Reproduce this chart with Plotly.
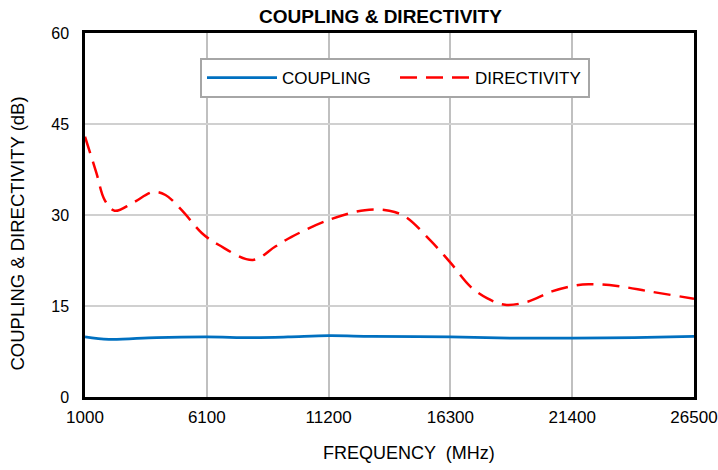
import plotly.graph_objects as go

# Data
freq_dir = [1000, 1480, 1820, 2240, 3000, 3860, 4370, 5050, 5900, 6590, 8030, 8970, 9650,
            11220, 12720, 13740, 14420, 15440, 16310, 17140, 17830, 18590, 19530, 20550,
            21420, 22080, 23280, 24640, 26500]
directivity = [42.9, 36.9, 32.5, 30.7, 32.0, 33.8, 33.3, 30.8, 27.0, 25.1, 22.6, 24.8, 26.4,
               29.2, 30.8, 30.7, 29.7, 25.9, 22.1, 18.2, 16.3, 15.2, 15.7, 17.4,
               18.3, 18.6, 18.3, 17.4, 16.2]

freq_cpl = [1000, 2000, 4000, 6100, 8000, 9500, 11200, 13000, 16300, 19000, 21400, 24000, 26500]
coupling = [9.9, 9.5, 9.8, 9.9, 9.8, 9.9, 10.1, 10.0, 9.9, 9.7, 9.7, 9.8, 10.0]

x_ticks = [1000, 6100, 11200, 16300, 21400, 26500]
y_ticks = [0, 15, 30, 45, 60]

FONT = "Arial, Liberation Sans, sans-serif"

W, H = 718, 470
L, R, T, B = 85, 24, 33, 73
PW, PH = W - L - R, H - T - B

fig = go.Figure()
fig.add_trace(go.Scatter(x=freq_cpl, y=coupling, name="COUPLING", mode="lines",
                         line=dict(color="#0070C0", width=2.75, shape="spline", smoothing=1.0)))
fig.add_trace(go.Scatter(x=freq_dir, y=directivity, name="DIRECTIVITY", mode="lines",
                         line=dict(color="#FF0000", width=2.5, dash="17px,9px",
                                   shape="spline", smoothing=1.0)))

fig.update_layout(
    width=W, height=H,
    margin=dict(l=L, r=R, t=T, b=B, autoexpand=False),
    paper_bgcolor="white", plot_bgcolor="white",
    font=dict(family=FONT, size=16, color="black"),
    title=dict(text="<b>COUPLING &amp; DIRECTIVITY</b>", x=380.5 / W, xanchor="center",
               y=1 - 16 / H, yref="container", yanchor="middle",
               font=dict(size=19, family=FONT, color="black")),
    showlegend=True,
    legend=dict(orientation="h", x=(200 - L) / PW, y=(H - B - 58) / PH,
                xanchor="left", yanchor="top",
                bgcolor="white", bordercolor="#A6A6A6", borderwidth=2,
                itemwidth=70,
                font=dict(size=17, family=FONT), entrywidth=108, entrywidthmode="pixels"),
    xaxis=dict(range=[1000, 26500], tickvals=x_ticks, ticktext=[str(v) for v in x_ticks],
               showgrid=True, gridcolor="#C0C0C0", gridwidth=1.5,
               showline=True, linecolor="black", linewidth=2.5, mirror=True,
               ticks="", ticklabelstandoff=3, zeroline=False, automargin=False,
               tickfont=dict(size=17)),
    yaxis=dict(range=[0, 60], tickvals=y_ticks,
               showgrid=True, gridcolor="#D0D0D0", gridwidth=1.5,
               showline=True, linecolor="black", linewidth=2.5, mirror=True,
               ticks="", ticklabelstandoff=10, zeroline=False, automargin=False,
               tickfont=dict(size=16)),
    annotations=[
        dict(text="FREQUENCY  (MHz)", xref="paper", yref="paper",
             x=(409 - L) / PW, y=-(453 - (H - B)) / PH, xanchor="center", yanchor="middle",
             showarrow=False, font=dict(size=18, family=FONT)),
        dict(text="COUPLING &amp; DIRECTIVITY (dB)", xref="paper", yref="paper",
             x=(17 - L) / PW, y=((H - B) - 233.5) / PH, xanchor="center", yanchor="middle",
             textangle=-90, showarrow=False, font=dict(size=18.5, family=FONT)),
    ],
)

# remove the default 8px page margin so the 718x470 figure fills the window exactly
fig.write_html("out.html", config={"displayModeBar": False},
               post_script="document.body.style.margin='0';document.body.style.overflow='hidden';")
